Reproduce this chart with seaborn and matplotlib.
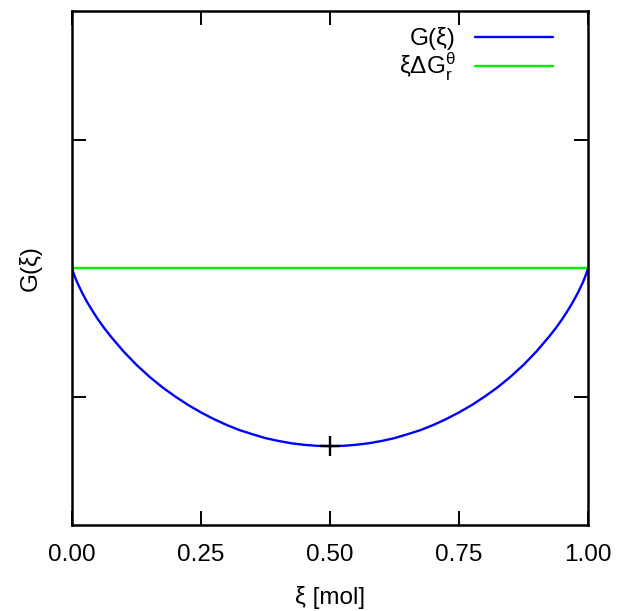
import numpy as np
import pandas as pd
import matplotlib
matplotlib.use("Agg")
import matplotlib.pyplot as plt
import seaborn as sns

# values
xi = [0.0, 0.001, 0.0025, 0.005, 0.01, 0.02, 0.03, 0.04, 0.05, 0.0625, 0.075, 0.1, 0.125,
      0.15, 0.175, 0.2, 0.225, 0.25, 0.275, 0.3, 0.325, 0.35, 0.375, 0.4, 0.425, 0.45, 0.475,
      0.5, 0.525, 0.55, 0.575, 0.6, 0.625, 0.65, 0.675, 0.7, 0.725, 0.75, 0.775, 0.8, 0.825,
      0.85, 0.875, 0.9, 0.925, 0.9375, 0.95, 0.96, 0.97, 0.98, 0.99, 0.995, 0.9975, 0.999, 1.0]
g_xi = [0.0, -0.008, -0.0175, -0.031, -0.056, -0.098, -0.135, -0.168, -0.199, -0.234, -0.266,
        -0.325, -0.377, -0.423, -0.464, -0.500, -0.533, -0.562, -0.588, -0.611, -0.631, -0.647,
        -0.662, -0.673, -0.682, -0.688, -0.692, -0.693, -0.692, -0.688, -0.682, -0.673, -0.662,
        -0.647, -0.631, -0.611, -0.588, -0.562, -0.533, -0.500, -0.464, -0.423, -0.377, -0.325,
        -0.266, -0.234, -0.199, -0.168, -0.135, -0.098, -0.056, -0.031, -0.0175, -0.008, 0.0]
ref_xi = [0.0, 1.0]
ref_g = [0.0, 0.0]
min_xi = [0.5]
min_g = [-0.693]
xticks = [0.0, 0.25, 0.5, 0.75, 1.0]
xtick_labels = ["0.00", "0.25", "0.50", "0.75", "1.00"]
yticks = [-0.5, 0.0, 0.5]

sns.set_theme(style="ticks")
plt.rcParams["font.family"] = ["Liberation Sans", "DejaVu Sans"]
plt.rcParams["text.color"] = "black"
plt.rcParams["axes.labelcolor"] = "black"
plt.rcParams["mathtext.fontset"] = "custom"
plt.rcParams["mathtext.rm"] = "Liberation Sans"
plt.rcParams["mathtext.it"] = "Liberation Sans"
plt.rcParams["mathtext.bf"] = "Liberation Sans"

df_g = pd.DataFrame({"xi": xi, "G": g_xi})
df_ref = pd.DataFrame({"xi": ref_xi, "G": ref_g})

fig = plt.figure(figsize=(6.19, 6.11), dpi=100)
ax = fig.add_axes([72 / 619, 1 - 525 / 611, 516 / 619, 514 / 611])

sns.lineplot(data=df_g, x="xi", y="G", ax=ax, color="#0000ff", lw=1.7, label=r"G(ξ)", sort=False)
sns.lineplot(data=df_ref, x="xi", y="G", ax=ax, color="#00ee00", lw=1.7,
             label=r"ξΔG$^{\theta}_{r}$", sort=False)
ax.plot(min_xi, min_g, marker="+", color="black", ms=14, mew=1.7, ls="none")

ax.set_xlim(0, 1)
ax.set_ylim(-1, 1)
ax.set_xticks(xticks)
ax.set_xticklabels(xtick_labels)
ax.set_yticks(yticks)
ax.set_yticklabels([])
ax.tick_params(direction="in", length=10, width=1.4, top=True, right=True,
               labelsize=17.5, colors="black", pad=14)
for s in ax.spines.values():
    s.set_linewidth(1.8)
    s.set_color("black")

ax.set_xlabel("ξ [mol]", fontsize=17.5, labelpad=14)
ax.set_ylabel("G(ξ)", fontsize=17.5, labelpad=8)

leg = ax.legend(loc="upper right", bbox_to_anchor=(0.932, 0.968), frameon=False,
                markerfirst=False, fontsize=17.5, handlelength=3.2, handletextpad=0.8,
                labelspacing=0.0, borderaxespad=0, borderpad=0)
for t in leg.get_texts():
    t.set_ha("right")

fig.savefig("out.png", dpi=100)
